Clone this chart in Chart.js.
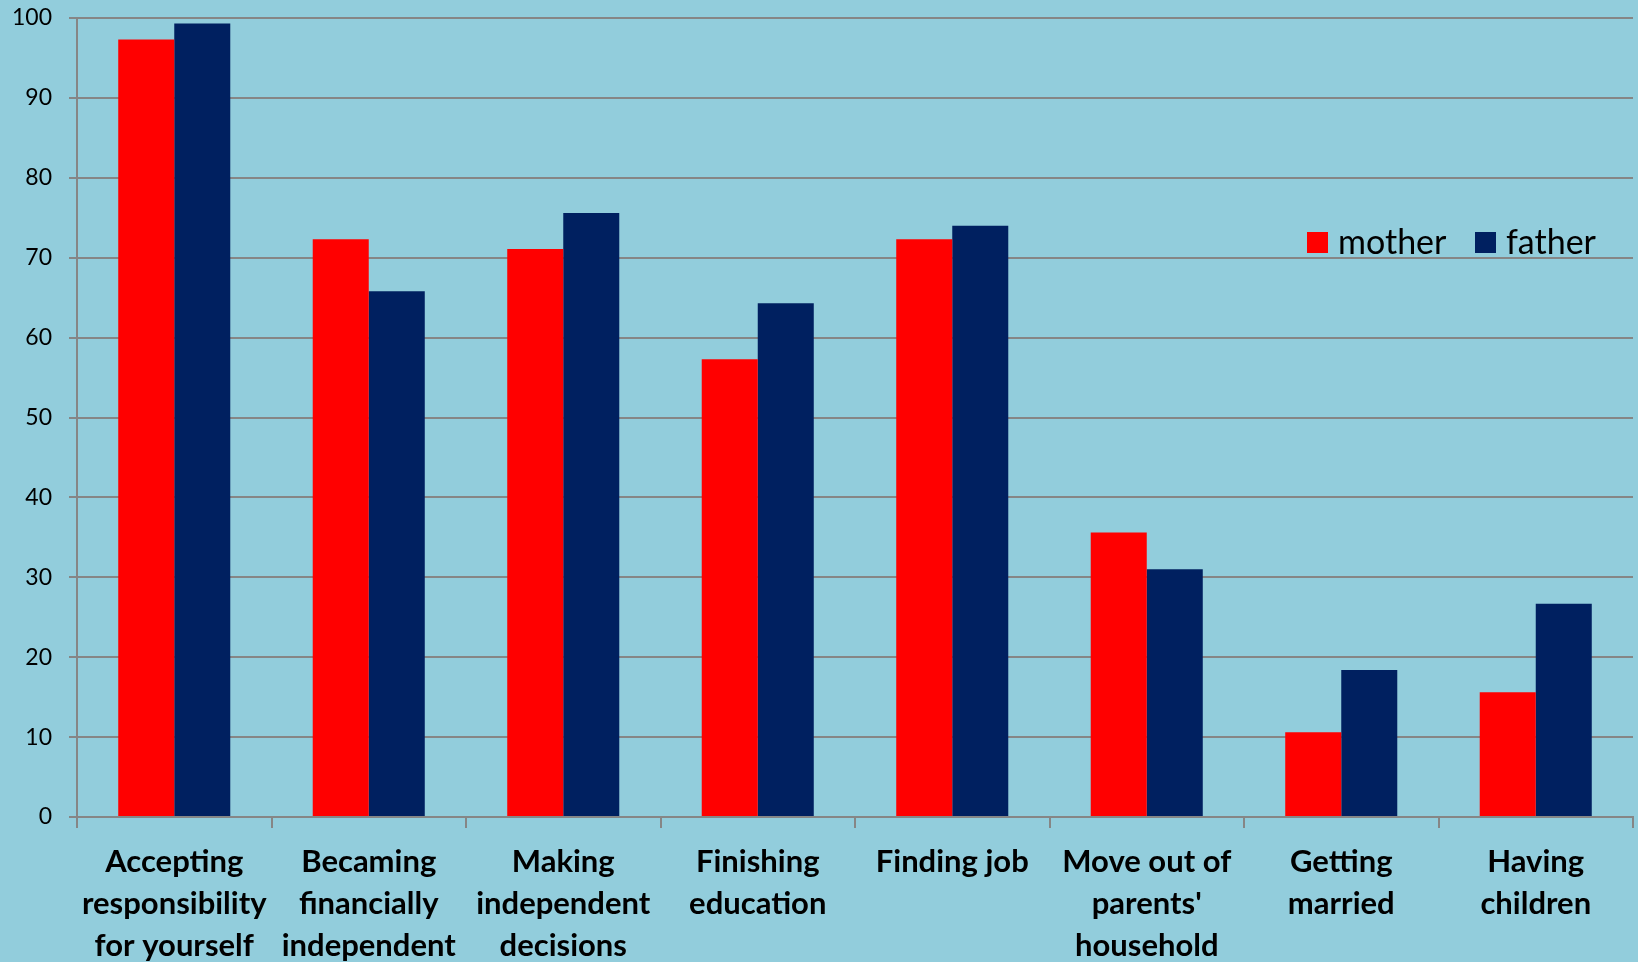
<!DOCTYPE html>
<html>
<head>
<meta charset="utf-8">
<script src="https://cdn.jsdelivr.net/npm/chart.js@4"></script>
<style>
  body { margin: 0; background: #92CDDC; }
  canvas { display: block; }
</style>
</head>
<body>
<canvas id="chart" width="1638" height="962"></canvas>
<script>
// Categories (multi-line labels) and values
const categories = [
    ["Accepting", "responsibility", "for yourself"],
    ["Becaming", "financially", "independent"],
    ["Making", "independent", "decisions"],
    ["Finishing", "education"],
    ["Finding job"],
    ["Move out of", "parents'", "household"],
    ["Getting", "married"],
    ["Having", "children"]
];
const motherValues = [97.3, 72.3, 71.1, 57.3, 72.3, 35.6, 10.6, 15.6];
const fatherValues = [99.3, 65.8, 75.6, 64.3, 74.0, 31.0, 18.4, 26.7];
const seriesNames = ["mother", "father"];
const seriesColors = ["#FF0000", "#002060"];

const gridColor = "#868686";
const bgColor = "#92CDDC";

// Paint the light blue background behind everything
const backgroundPlugin = {
    id: "bg",
    beforeDraw(chart) {
        const ctx = chart.ctx;
        ctx.save();
        ctx.fillStyle = bgColor;
        ctx.fillRect(0, 0, chart.width, chart.height);
        ctx.restore();
    }
};

// Legend drawn inside the plot area, right side
const legendX = [1307, 1475];
const insideLegend = {
    id: "insideLegend",
    afterDraw(chart) {
        const ctx = chart.ctx;
        ctx.save();
        ctx.font = "34px Lato";
        ctx.textBaseline = "middle";
        const y = 242;
        chart.data.datasets.forEach((ds, i) => {
            const x = legendX[i];
            ctx.fillStyle = ds.backgroundColor;
            ctx.fillRect(x, y - 10, 21, 21);
            ctx.fillStyle = "#000";
            ctx.fillText(ds.label, x + 31, y + 1);
        });
        ctx.restore();
    }
};

new Chart(document.getElementById("chart"), {
    type: "bar",
    data: {
        labels: categories,
        datasets: [
            {
                label: seriesNames[0],
                data: motherValues,
                backgroundColor: seriesColors[0],
                categoryPercentage: 0.576,
                barPercentage: 1.0
            },
            {
                label: seriesNames[1],
                data: fatherValues,
                backgroundColor: seriesColors[1],
                categoryPercentage: 0.576,
                barPercentage: 1.0
            }
        ]
    },
    options: {
        responsive: false,
        animation: false,
        layout: {
            padding: { top: 18, right: 5, left: 0, bottom: 0 }
        },
        plugins: {
            legend: { display: false },
            tooltip: { enabled: false }
        },
        scales: {
            x: {
                grid: {
                    display: true,
                    drawOnChartArea: false,
                    drawTicks: true,
                    tickLength: 11,
                    color: gridColor,
                    lineWidth: 2
                },
                border: { display: true, color: gridColor, width: 2 },
                ticks: {
                    autoSkip: false,
                    maxRotation: 0,
                    minRotation: 0,
                    padding: 13,
                    color: "#000",
                    font: { family: "Lato", size: 31, weight: "bold", lineHeight: "42px" }
                },
                afterFit(scale) {
                    scale.height = 145;
                }
            },
            y: {
                min: 0,
                max: 100,
                ticks: {
                    stepSize: 10,
                    padding: 17,
                    color: "#000",
                    font: { family: "Lato", size: 23 }
                },
                grid: {
                    color: gridColor,
                    lineWidth: 2,
                    tickLength: 8,
                    drawTicks: true
                },
                border: { display: true, color: gridColor, width: 2 },
                afterFit(scale) {
                    scale.width = 77;
                    scale.paddingTop = 0;
                    scale.paddingBottom = 0;
                }
            }
        }
    },
    plugins: [backgroundPlugin, insideLegend]
});
</script>
</body>
</html>
